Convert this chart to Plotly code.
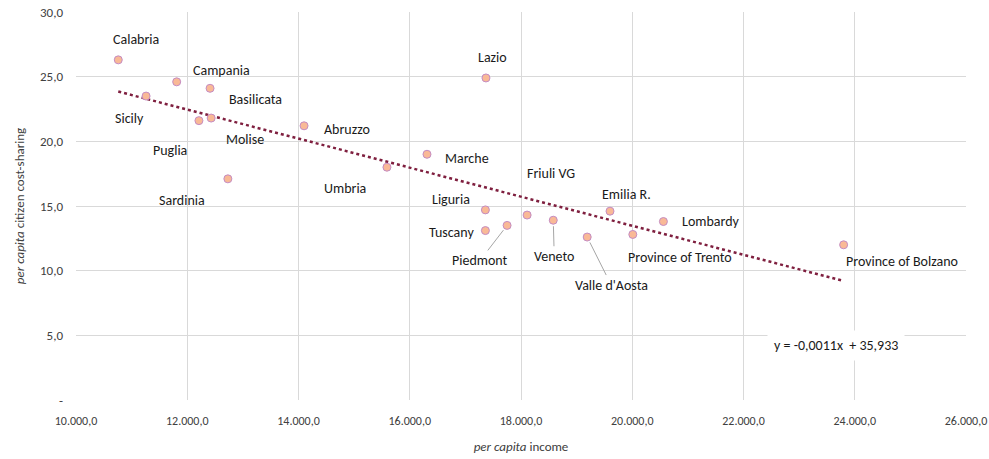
import plotly.graph_objects as go

# Regional data: per capita income vs per capita citizen cost-sharing
regions = ["Calabria", "Campania", "Basilicata", "Sicily", "Puglia", "Molise",
           "Sardinia", "Abruzzo", "Umbria", "Marche", "Lazio", "Liguria",
           "Tuscany", "Piedmont", "Friuli VG", "Veneto", "Valle d'Aosta",
           "Emilia R.", "Province of Trento", "Lombardy", "Province of Bolzano"]
income = [10760, 11810, 12410, 11260, 12210, 12430,
          12730, 14100, 15590, 16310, 17370, 17360,
          17360, 17750, 18110, 18580, 19190,
          19600, 20010, 20560, 23800]
cost_sharing = [26.3, 24.6, 24.1, 23.5, 21.6, 21.8,
                17.1, 21.2, 18.0, 19.0, 24.9, 14.7,
                13.1, 13.5, 14.3, 13.9, 12.6,
                14.6, 12.8, 13.8, 12.0]

# Linear trend coefficients
trend_slope = -0.001123
trend_intercept = 35.933

x_ticks = [10000, 12000, 14000, 16000, 18000, 20000, 22000, 24000, 26000]
x_tick_text = ["10.000,0", "12.000,0", "14.000,0", "16.000,0", "18.000,0",
               "20.000,0", "22.000,0", "24.000,0", "26.000,0"]
y_ticks = [0, 5, 10, 15, 20, 25, 30]
y_tick_text = ["-", "5,0", "10,0", "15,0", "20,0", "25,0", "30,0"]

FONT = "Carlito, Lato, 'Liberation Sans', sans-serif"
GRID = "#D9D9D9"
LABEL_COLOR = "#1A1A1A"
LABEL_SIZE = 14

# Label placement (pixel offsets from each point); leader-line labels use ax/ay
label_offsets = {
    "Calabria": (18, -20), "Campania": (45, -11), "Basilicata": (45, 11),
    "Sicily": (-17, 22), "Puglia": (-29, 30), "Molise": (34, 21),
    "Sardinia": (-46, 22), "Abruzzo": (43, 4), "Umbria": (-42, 21),
    "Marche": (40, 4), "Lazio": (7, -20), "Liguria": (-34, -10),
    "Tuscany": (-34, 2), "Friuli VG": (24, -42), "Emilia R.": (16, -17),
    "Province of Trento": (47, 23), "Lombardy": (48, 0),
    "Province of Bolzano": (58, 17),
}
leader_offsets = {"Piedmont": (-27, 35), "Veneto": (1, 36), "Valle d'Aosta": (24, 48)}

fig = go.Figure()

x0, x1 = min(income), max(income)
fig.add_trace(go.Scatter(
    x=[x0, x1],
    y=[trend_slope * x0 + trend_intercept, trend_slope * x1 + trend_intercept],
    mode="lines",
    line=dict(color="#7F1F3F", width=2.5, dash="dot"),
    hoverinfo="skip", showlegend=False,
))

fig.add_trace(go.Scatter(
    x=income, y=cost_sharing, mode="markers",
    marker=dict(size=8, color="#F9B996", line=dict(color="#C48CC4", width=1)),
    text=regions, showlegend=False,
))

annotations = []
for name, xv, yv in zip(regions, income, cost_sharing):
    if name in leader_offsets:
        ax, ay = leader_offsets[name]
        annotations.append(dict(
            x=xv, y=yv, xref="x", yref="y", text=name, showarrow=True,
            arrowhead=0, arrowwidth=1, arrowcolor="#A6A6A6", ax=ax, ay=ay,
            standoff=6, font=dict(family=FONT, size=LABEL_SIZE, color=LABEL_COLOR),
        ))
    else:
        dx, dy = label_offsets[name]
        annotations.append(dict(
            x=xv, y=yv, xref="x", yref="y", text=name, showarrow=False,
            xshift=dx, yshift=-dy,
            font=dict(family=FONT, size=LABEL_SIZE, color=LABEL_COLOR),
        ))

eq_text = "y = {:.4f}x  + {:.3f}".format(trend_slope, trend_intercept).replace(".", ",")
annotations.append(dict(
    x=23670, y=4.25, xref="x", yref="y", text=eq_text, showarrow=False,
    bgcolor="white", borderpad=6,
    font=dict(family=FONT, size=LABEL_SIZE, color=LABEL_COLOR),
))

fig.update_layout(
    width=989, height=459,
    margin=dict(l=76, r=23, t=12, b=59),
    paper_bgcolor="white", plot_bgcolor="white",
    font=dict(family=FONT, size=12, color="#404040"),
    annotations=annotations,
    xaxis=dict(
        range=[10000, 26000], tickvals=x_ticks, ticktext=x_tick_text,
        showgrid=True, gridcolor=GRID, gridwidth=1, zeroline=False,
        showline=False, ticks="", tickfont=dict(size=12, color="#404040"),
        ticklabelstandoff=12, automargin=False,
        title=dict(text="<i>per capita</i> income", font=dict(size=13, color="#404040"),
                   standoff=14),
    ),
    yaxis=dict(
        range=[0, 30], tickvals=y_ticks, ticktext=y_tick_text,
        showgrid=True, gridcolor=GRID, gridwidth=1, zeroline=False,
        showline=False, ticks="", tickfont=dict(size=13, color="#404040"),
        ticklabelstandoff=12, automargin=False,
        title=dict(text="<i>per capita</i> citizen cost-sharing",
                   font=dict(size=13, color="#404040"), standoff=12),
    ),
)

fig.write_html("out.html")
